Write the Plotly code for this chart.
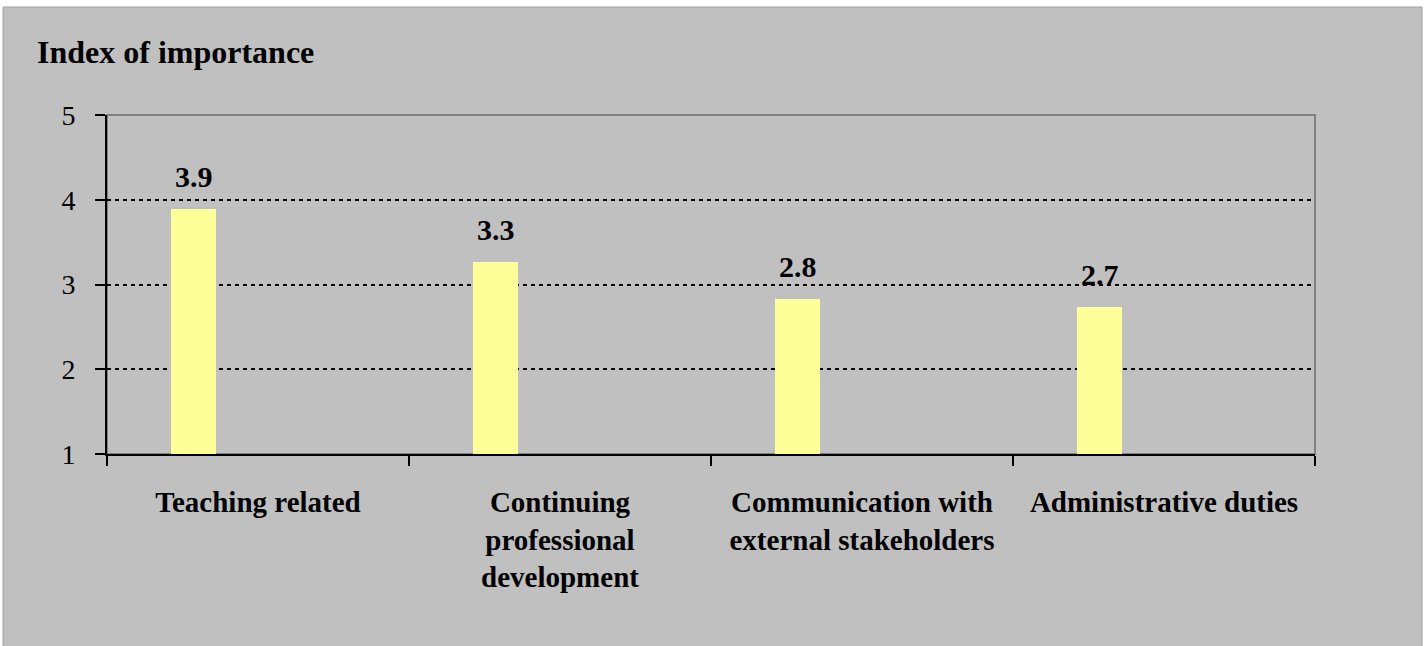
import plotly.graph_objects as go

# data
categories = [
    "Teaching related",
    "Continuing<br>professional<br>development",
    "Communication with<br>external stakeholders",
    "Administrative duties",
]
importance = [3.89, 3.26, 2.83, 2.73]
labels = ["3.9", "3.3", "2.8", "2.7"]
y_ticks = [1, 2, 3, 4, 5]

GRAY = "#C0C0C0"
SERIF = "Liberation Serif, Times New Roman, serif"

fig = go.Figure()

fig.add_trace(
    go.Bar(
        x=categories,
        y=importance,
        width=0.148,
        offset=-0.288,
        marker_color="#FFFF99",
        marker_line_width=0,
        hoverinfo="x+y",
    )
)

# data labels above bars
for cat, val, lab in zip(categories, importance, labels):
    fig.add_annotation(
        x=cat, y=val, text=f"<b>{lab}</b>",
        xshift=-64, yshift=14, yanchor="bottom",
        showarrow=False,
        font=dict(family=SERIF, size=30, color="black"),
    )

# outer gray panel
fig.add_shape(
    type="rect", xref="paper", yref="paper",
    x0=-0.0861, x1=1.0886, y0=-0.6, y1=1.3186,
    fillcolor=GRAY, line=dict(color="#A0A0A0", width=1), layer="below",
)
# plot area frame (gray top/right)
fig.add_shape(
    type="rect", xref="paper", yref="paper",
    x0=0, x1=1, y0=0, y1=1,
    line=dict(color="#808080", width=2), layer="below",
)

fig.update_xaxes(
    showline=True, linecolor="black", linewidth=2,
    ticks="outside", tickson="boundaries", ticklen=10, tickcolor="black", tickwidth=1.5,
    tickfont=dict(family=SERIF, size=29, color="black", weight="bold"),
    ticklabelstandoff=21,
    showgrid=False,
)
fig.update_yaxes(
    range=[1, 5], tickvals=y_ticks,
    showline=True, linecolor="black", linewidth=2,
    ticks="outside", ticklen=10, tickcolor="black", tickwidth=1.5,
    tickfont=dict(family=SERIF, size=28, color="black"),
    ticklabelstandoff=14,
    showgrid=True, gridcolor="black", gridwidth=2, griddash="4px,4px",
    zeroline=False,
)

fig.update_layout(
    width=1425, height=646,
    paper_bgcolor="white", plot_bgcolor=GRAY,
    margin=dict(l=107, r=110, t=115, b=192),
    showlegend=False,
    bargap=0,
    title=dict(
        text="<b>Index of importance</b>",
        x=37 / 1425, xanchor="left", xref="container",
        y=1 - 52 / 646, yanchor="middle", yref="container",
        font=dict(family=SERIF, size=32, color="black"),
    ),
)

fig.write_html(
    "out.html",
    config={"displayModeBar": False},
    post_script="document.body.style.margin='0';",
)
